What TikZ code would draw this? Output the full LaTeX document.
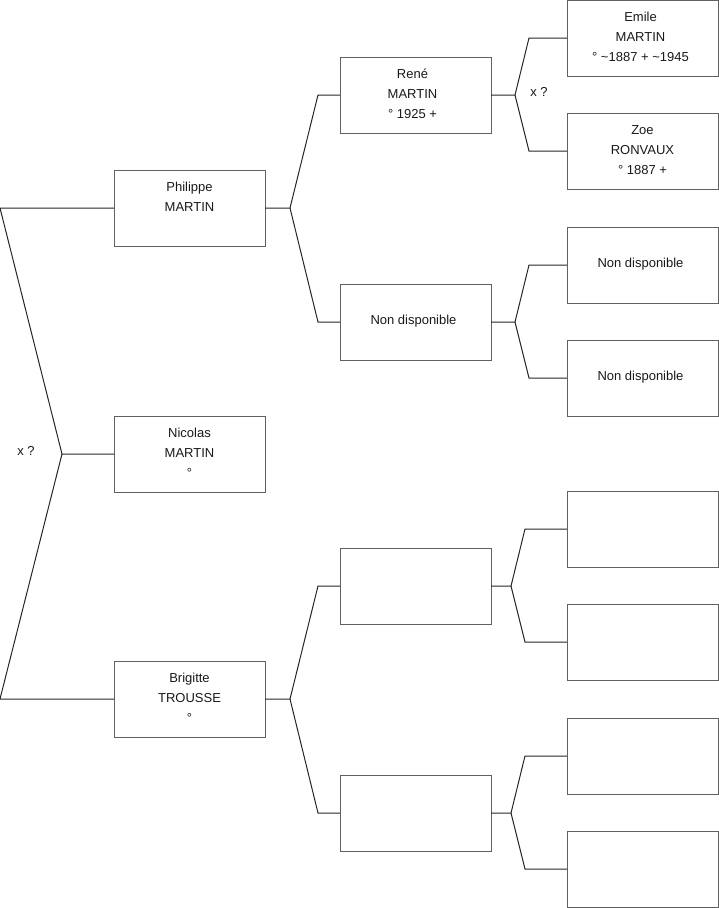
\documentclass[tikz,border=0pt]{standalone}
\usepackage{fontspec}
\setmainfont{Liberation Sans}
\begin{document}
\begin{tikzpicture}[x=1pt,y=-1pt,
  box/.style={draw=black!62,line width=1pt,minimum width=151pt,minimum height=76pt,anchor=north west,inner sep=0pt,outer sep=0pt},
  txt/.style={font=\fontsize{13}{20}\selectfont,align=center,inner sep=0pt,anchor=north,text=black!90},
  conn/.style={draw=black!85,line width=1pt}]
\useasboundingbox (0,0) rectangle (719,908);
% generation 1
\node[box] (p) at (114,170) {};
\node[box] (n) at (114,416) {};
\node[box] (b) at (114,661) {};
% generation 2
\node[box] (r) at (340,57) {};
\node[box] (nd) at (340,284) {};
\node[box] (e1) at (340,548) {};
\node[box] (e2) at (340,775) {};
% generation 3
\node[box] (em) at (567,0) {};
\node[box] (zo) at (567,113) {};
\node[box] (nd1) at (567,227) {};
\node[box] (nd2) at (567,340) {};
\node[box] (f1) at (567,491) {};
\node[box] (f2) at (567,604) {};
\node[box] (f3) at (567,718) {};
\node[box] (f4) at (567,831) {};
% texts
\node[txt] at ([yshift=-12pt]p.north) {Philippe\\MARTIN};
\node[txt] at ([yshift=-12pt]n.north) {Nicolas\\MARTIN\\°};
\node[txt] at ([yshift=-12pt]b.north) {Brigitte\\TROUSSE\\°};
\node[txt] at ([xshift=-3pt,yshift=-12pt]r.north) {René\\MARTIN\\° 1925 +};
\node[txt,anchor=center] at ([xshift=-2pt,yshift=1pt]nd.center) {Non disponible};
\node[txt] at ([xshift=-2pt,yshift=-12pt]em.north) {Emile\\MARTIN\\° \textasciitilde 1887 + \textasciitilde 1945};
\node[txt] at ([yshift=-12pt]zo.north) {Zoe\\RONVAUX\\° 1887 +};
\node[txt,anchor=center] at ([xshift=-2pt,yshift=1pt]nd1.center) {Non disponible};
\node[txt,anchor=center] at ([xshift=-2pt,yshift=1pt]nd2.center) {Non disponible};
\node[txt,anchor=center] (x1) at (26,451) {x ?};
\node[txt,anchor=center] (x2) at (539,92) {x ?};
% junction coordinates
\coordinate (j0) at (62,454);
\coordinate (jp) at (290,208);
\coordinate (jb) at (290,699);
\coordinate (jr) at (515,95);
\coordinate (jnd) at (515,322);
\coordinate (je1) at (511,586);
\coordinate (je2) at (511,813);
% root
\draw[conn] (n.west) -- (j0) -- ([xshift=-114pt]p.west) -- (p.west);
\draw[conn] (j0) -- ([xshift=-114pt]b.west) -- (b.west);
% generation 1 -> 2
\draw[conn] (p.east) -- (jp) -- ([xshift=-22pt]r.west) -- (r.west);
\draw[conn] (jp) -- ([xshift=-22pt]nd.west) -- (nd.west);
\draw[conn] (b.east) -- (jb) -- ([xshift=-22pt]e1.west) -- (e1.west);
\draw[conn] (jb) -- ([xshift=-22pt]e2.west) -- (e2.west);
% generation 2 -> 3
\draw[conn] (r.east) -- (jr) -- ([xshift=-38pt]em.west) -- (em.west);
\draw[conn] (jr) -- ([xshift=-38pt]zo.west) -- (zo.west);
\draw[conn] (nd.east) -- (jnd) -- ([xshift=-38pt]nd1.west) -- (nd1.west);
\draw[conn] (jnd) -- ([xshift=-38pt]nd2.west) -- (nd2.west);
\draw[conn] (e1.east) -- (je1) -- ([xshift=-42pt]f1.west) -- (f1.west);
\draw[conn] (je1) -- ([xshift=-42pt]f2.west) -- (f2.west);
\draw[conn] (e2.east) -- (je2) -- ([xshift=-42pt]f3.west) -- (f3.west);
\draw[conn] (je2) -- ([xshift=-42pt]f4.west) -- (f4.west);
\end{tikzpicture}
\end{document}
